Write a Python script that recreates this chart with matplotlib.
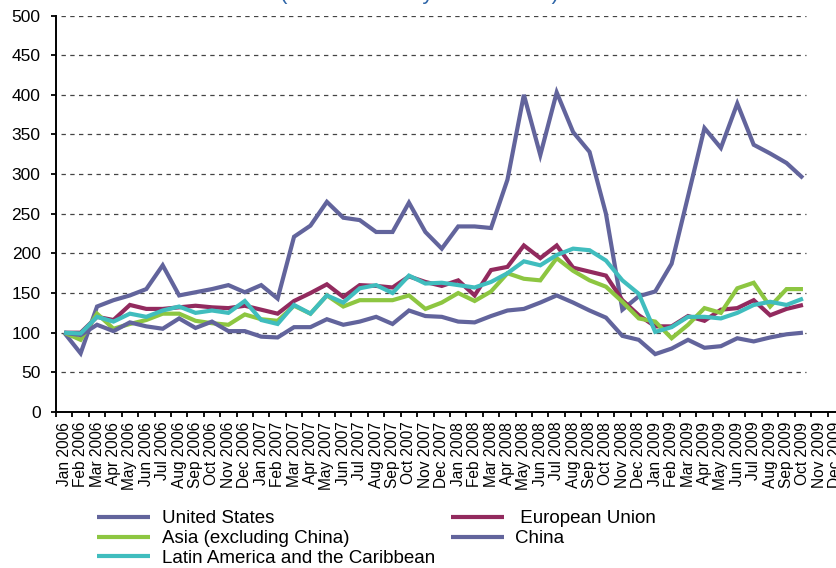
import matplotlib
matplotlib.use("Agg")
import matplotlib.pyplot as plt
import numpy as np

plt.rcParams['font.family'] = ['Liberation Sans', 'DejaVu Sans']

months = [f"{m} {y}" for y in (2006, 2007, 2008, 2009)
          for m in ["Jan", "Feb", "Mar", "Apr", "May", "Jun",
                    "Jul", "Aug", "Sep", "Oct", "Nov", "Dec"]]

united_states = [100, 74, 133, 141, 147, 155, 185, 147, 151, 155, 160, 151,
                 160, 143, 221, 235, 265, 245, 242, 227, 227, 264, 227, 206,
                 234, 234, 232, 293, 400, 324, 403, 353, 328, 250, 129, 146,
                 152, 187, 272, 358, 333, 389, 337, 326, 314, 295]
european_union = [100, 100, 120, 116, 135, 130, 130, 132, 134, 132, 131, 134,
                  129, 124, 140, 150, 161, 145, 160, 159, 157, 171, 164, 159,
                  166, 147, 179, 183, 210, 194, 210, 182, 177, 172, 141, 122,
                  108, 108, 121, 115, 129, 131, 141, 122, 130, 135]
asia_ex_china = [100, 91, 124, 105, 111, 116, 124, 124, 115, 112, 110, 123,
                 117, 115, 134, 124, 147, 133, 141, 141, 141, 147, 130, 138,
                 150, 140, 152, 175, 168, 166, 194, 178, 166, 158, 139, 118,
                 114, 93, 110, 131, 125, 156, 163, 133, 155, 155]
china = [100, 97, 110, 102, 113, 108, 105, 118, 106, 114, 102, 102,
         95, 94, 107, 107, 117, 110, 114, 120, 111, 128, 121, 120,
         114, 113, 121, 128, 130, 138, 147, 138, 128, 119, 96, 91,
         73, 80, 91, 81, 83, 93, 89, 94, 98, 100]
latin_america = [100, 99, 120, 114, 124, 120, 128, 133, 125, 128, 125, 140,
                 116, 111, 135, 124, 147, 138, 156, 160, 150, 172, 162, 163,
                 160, 157, 164, 175, 190, 185, 198, 206, 204, 191, 166, 149,
                 101, 107, 120, 120, 118, 125, 135, 139, 135, 143]

series_names = ["United States", " European Union", "Asia (excluding China)",
                "China", "Latin America and the Caribbean"]
series_values = [united_states, european_union, asia_ex_china, china, latin_america]
series_colors = ["#62649C", "#922A5E", "#8DC641", "#62649C", "#40BDBE"]
y_ticks = list(range(0, 501, 50))

W, H = 836, 568
fig = plt.figure(figsize=(W / 100, H / 100), dpi=100)
ax = fig.add_axes([56 / W, 1 - 412 / H, 788 / W, 396.5 / H])

ax.set_xlim(-0.5, len(months) - 0.5)
ax.set_ylim(0, 500)

# dashed horizontal gridlines
ax.hlines(y_ticks[1:], -0.2, 45.2, colors="#444444", linewidth=0.9,
          linestyles=(0, (3.5, 3.5)), zorder=1)

handles = []
for name, vals, col in zip(series_names, series_values, series_colors):
    x = np.arange(len(vals))
    ln, = ax.plot(x, vals, color=col, lw=3.0, solid_joinstyle="miter",
                  solid_capstyle="butt", zorder=3, label=name)
    handles.append(ln)

for s in ("top", "right"):
    ax.spines[s].set_visible(False)
for s in ("left", "bottom"):
    ax.spines[s].set_linewidth(1.4)
    ax.spines[s].set_color("black")

ax.set_yticks(y_ticks)
ax.set_yticklabels([str(v) for v in y_ticks])
ax.tick_params(axis="y", length=3.6, width=1.3, labelsize=12.5, pad=7.5,
               colors="black")

ax.set_xticks(np.arange(len(months)))
ax.set_xticklabels(months, rotation=90, fontsize=11.2)
ax.set_xticks(np.arange(-0.5, len(months), 1), minor=True)
ax.tick_params(axis="x", which="major", length=0, pad=7)
ax.tick_params(axis="x", which="minor", length=3.6, width=1.3)

# partially visible title at the cropped top edge
fig.text(420 / W, 1 + 1.5 / H, "(Index: January 2006 = 100)", ha="center",
         va="baseline", fontsize=16, color="#2F66A8")

order = [0, 2, 4, 1, 3]
fig.legend([handles[i] for i in order], [series_names[i] for i in order],
           loc="upper left", bbox_to_anchor=(97 / W, 1 - 510 / H), ncol=2,
           frameon=False, fontsize=13.5, handlelength=2.83,
           handletextpad=0.62, columnspacing=0.84, labelspacing=0.15,
           borderpad=0, borderaxespad=0)

fig.savefig("out.png", dpi=100)
